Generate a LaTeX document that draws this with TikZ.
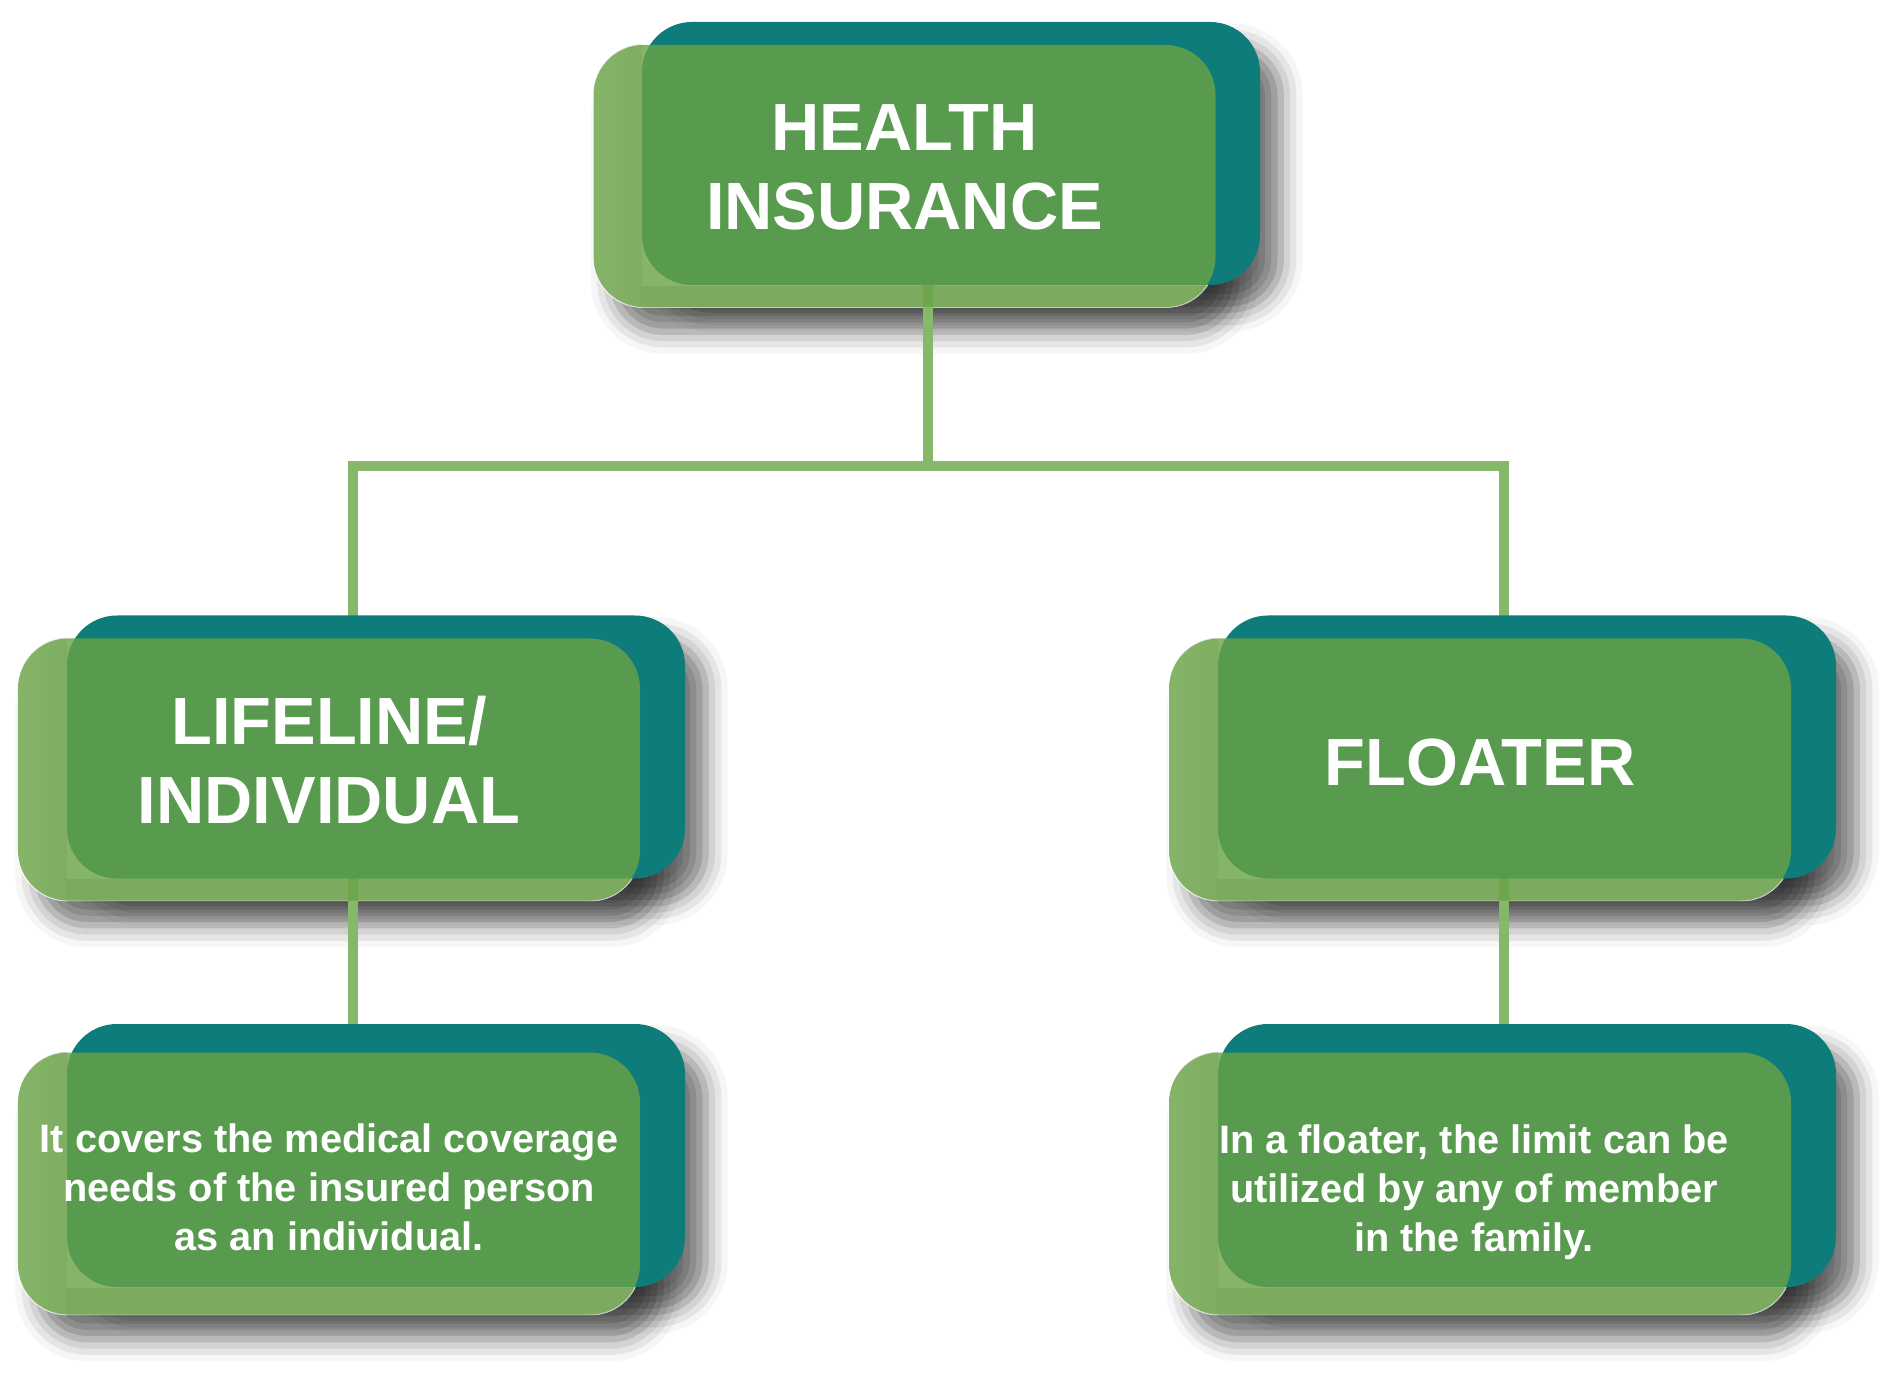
\documentclass[tikz,border=0pt]{standalone}
\usepackage{fontspec}
\setmainfont{Liberation Sans}
\usetikzlibrary{positioning,calc,shadows.blur}
\definecolor{boxteal}{RGB}{13,124,122}
\definecolor{boxgreen}{RGB}{106,163,70}
\definecolor{linkgreen}{RGB}{134,184,106}
\pgfdeclarelayer{paper}
\pgfdeclarelayer{links}
\pgfsetlayers{paper,links,main}
\begin{document}
\begin{tikzpicture}[
  back/.style={rectangle,rounded corners=.5cm,fill=boxteal,minimum width=6.18cm,minimum height=2.63cm,inner sep=0pt},
  front/.style={rectangle,rounded corners=.5cm,fill=boxgreen,fill opacity=.81,minimum width=6.22cm,minimum height=2.62cm,inner sep=0pt},
  title/.style={text=white,align=center,font=\bfseries\fontsize{19}{22.5}\selectfont},
  note/.style={title,font=\bfseries\fontsize{11.3}{14}\selectfont},
  link/.style={draw=linkgreen,line width=.1cm},
  haze/.style={rounded corners=.5cm,blur shadow={shadow xshift=.2cm,shadow yshift=-.24cm,shadow blur radius=.22cm,shadow opacity=55}}
]
\useasboundingbox (0,0) rectangle (19,-13.75);
\node[back] (hi-back) at (9.51,-1.535) {};
\node[front] (hi) at (9.045,-1.76) {};
\node[title] (hi-t) at ([yshift=.085cm]hi) {HEALTH\\INSURANCE};
\node[back] (life-back) at (3.76,-7.47) {};
\node[front] (life) at (3.29,-7.695) {};
\node[title] (life-t) at ([yshift=.09cm]life) {LIFELINE/\\INDIVIDUAL};
\node[back] (flo-back) at (15.27,-7.47) {};
\node[front] (flo) at (14.80,-7.695) {};
\node[title] (flo-t) at ([yshift=.07cm]flo) {FLOATER};
\node[back] (lnote-back) at (3.76,-11.555) {};
\node[front] (lnote) at (3.29,-11.835) {};
\node[note] (lnote-t) at ([yshift=-.035cm]lnote) {It covers the medical coverage\\needs of the insured person\\as an individual.};
\node[back] (fnote-back) at (15.27,-11.555) {};
\node[front] (fnote) at (14.80,-11.835) {};
\node[note] (fnote-t) at ([xshift=-.06cm,yshift=-.085cm]fnote) {In a floater, the limit can be\\utilized by any of member\\in the family.};

\begin{pgfonlayer}{paper}
\foreach \n in {hi,life,flo,lnote,fnote}{
  \path[haze] (\n.south west) rectangle (\n.north east);
  \path[haze] (\n-back.south west) rectangle (\n-back.north east);
}
\foreach \n in {hi,life,flo,lnote,fnote}{
  \fill[white,rounded corners=.5cm] (\n.south west) rectangle (\n.north east);
  \begin{scope}
    \clip[rounded corners=.5cm] (\n.south west) rectangle (\n.north east);
    \shade[left color=white,right color=black!14] (\n.south west) rectangle (\n-back.west |- \n.north);
    \fill[black!20] (\n-back.west |- \n.south) rectangle (\n.east |- \n-back.south);
  \end{scope}
}
\end{pgfonlayer}

\begin{pgfonlayer}{links}
\coordinate (hi-c) at ($(hi)!.5!(hi-back)$);
\coordinate (life-c) at ($(life)!.5!(life-back)$);
\coordinate (flo-c) at ($(flo)!.5!(flo-back)$);
\coordinate (lnote-c) at ($(lnote)!.5!(lnote-back)$);
\coordinate (fnote-c) at ($(fnote)!.5!(fnote-back)$);
\coordinate (bus) at (0,-4.66);
\draw[link] (hi-c) -- (hi-c |- bus);
\draw[link] (life-c) |- (hi-c |- bus) -| (flo-c);
\draw[link] (life-c) -- (lnote-c);
\draw[link] (flo-c) -- (fnote-c);
\end{pgfonlayer}
\end{tikzpicture}
\end{document}
